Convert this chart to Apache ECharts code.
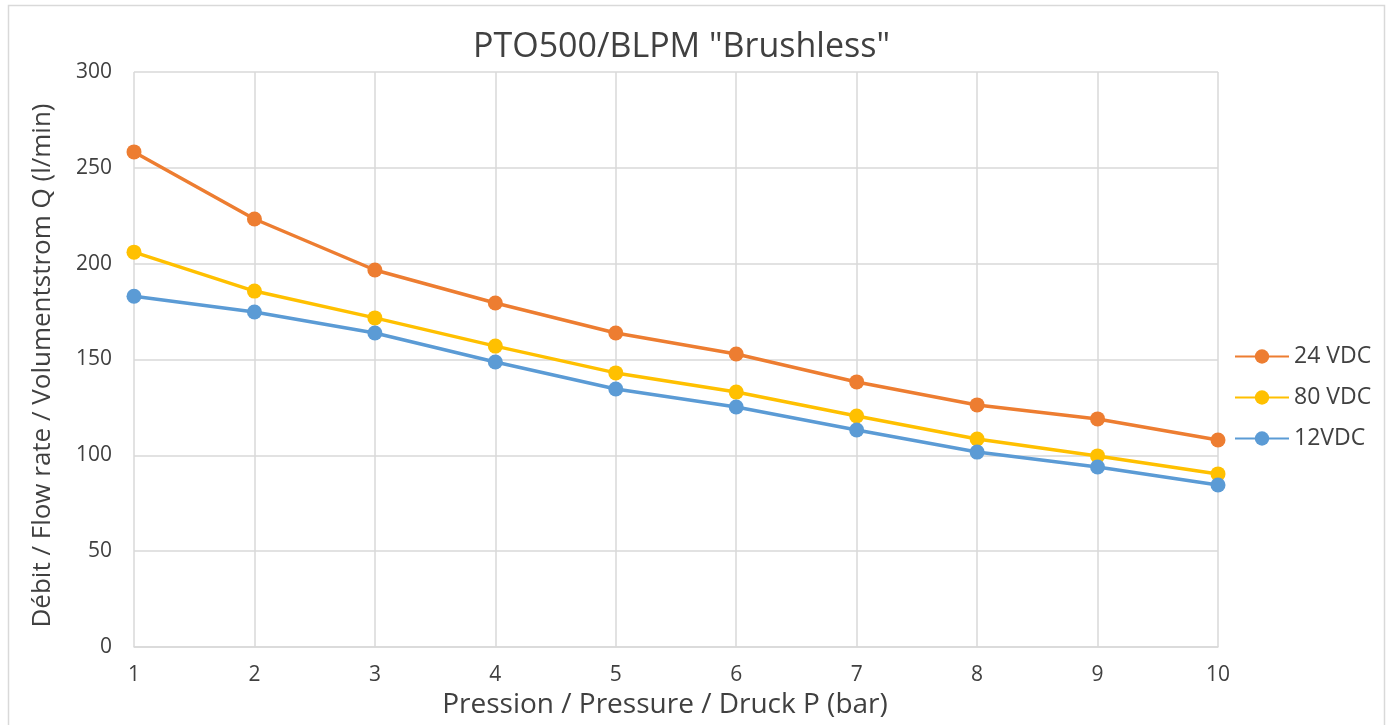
<!DOCTYPE html>
<html>
<head>
<meta charset="utf-8">
<script src="https://cdn.jsdelivr.net/npm/echarts@6/dist/echarts.min.js"></script>
<style>
html,body{margin:0;padding:0;background:#fff;}
#c{width:1391px;height:725px;}
</style>
</head>
<body>
<div id="c"></div>
<script>
const categories = ['1','2','3','4','5','6','7','8','9','10'];
const s24 = [258.3, 223.3, 196.7, 179.5, 163.8, 152.9, 138.3, 126.3, 119, 108];
const s80 = [206, 185.7, 171.7, 157, 143, 133, 120.5, 108.5, 99.7, 90.3];
const s12 = [183, 174.8, 163.8, 148.7, 134.6, 125.2, 113.2, 101.7, 93.9, 84.5];
const names = ['24 VDC', '80 VDC', '12VDC'];
const colors = ['#ED7D31', '#FFC000', '#5B9BD5'];

const font = '"Open Sans", "Liberation Sans", sans-serif';
const chart = echarts.init(document.getElementById('c'));
function mk(name, data, color) {
  return {
    name, type: 'line', data,
    symbol: 'circle', symbolSize: 15,
    lineStyle: {color, width: 3.5},
    itemStyle: {color},
    animation: false
  };
}
chart.setOption({
  animation: false,
  textStyle: {fontFamily: font},
  graphic: [{
    type: 'rect', shape: {x: 8.5, y: 5.5, width: 1376, height: 730},
    style: {fill: 'none', stroke: '#d9d9d9', lineWidth: 1.5}
  }],
  title: {
    text: 'PTO500/BLPM "Brushless"',
    left: 468, top: 25,
    textStyle: {fontFamily: font, fontSize: 34, fontWeight: 'normal', color: '#404040'}
  },
  legend: {
    orient: 'vertical', left: 1234, top: 345, padding: 0,
    itemWidth: 54, itemHeight: 18, itemGap: 18,
    textStyle: {fontFamily: font, fontSize: 23, color: '#404040'},
    data: names
  },
  grid: {left: 134, top: 72, width: 1084, height: 575, containLabel: false, outerBoundsMode: 'none'},
  xAxis: {
    type: 'category', data: categories, boundaryGap: false,
    name: 'Pression / Pressure / Druck P (bar)', nameLocation: 'middle', nameGap: 43,
    nameTextStyle: {fontFamily: font, fontSize: 28, color: '#404040', padding: [0, 22, 0, 0]},
    axisLine: {lineStyle: {color: '#d9d9d9', width: 1.5}},
    axisTick: {show: false},
    axisLabel: {fontFamily: font, fontSize: 21, color: '#404040', margin: 18},
    splitLine: {show: true, lineStyle: {color: '#d9d9d9', width: 1.5}}
  },
  yAxis: {
    type: 'value', min: 0, max: 300, interval: 50,
    name: 'Débit / Flow rate / Volumentstrom Q (l/min)', nameLocation: 'middle', nameGap: 78,
    nameTextStyle: {fontFamily: font, fontSize: 26, color: '#404040', padding: [0, 12, 0, 0]},
    axisLine: {show: false}, axisTick: {show: false},
    axisLabel: {fontFamily: font, fontSize: 21, color: '#404040', margin: 22},
    splitLine: {lineStyle: {color: '#d9d9d9', width: 1.5}}
  },
  series: [mk(names[0], s24, colors[0]), mk(names[1], s80, colors[1]), mk(names[2], s12, colors[2])]
});
</script>
</body>
</html>
